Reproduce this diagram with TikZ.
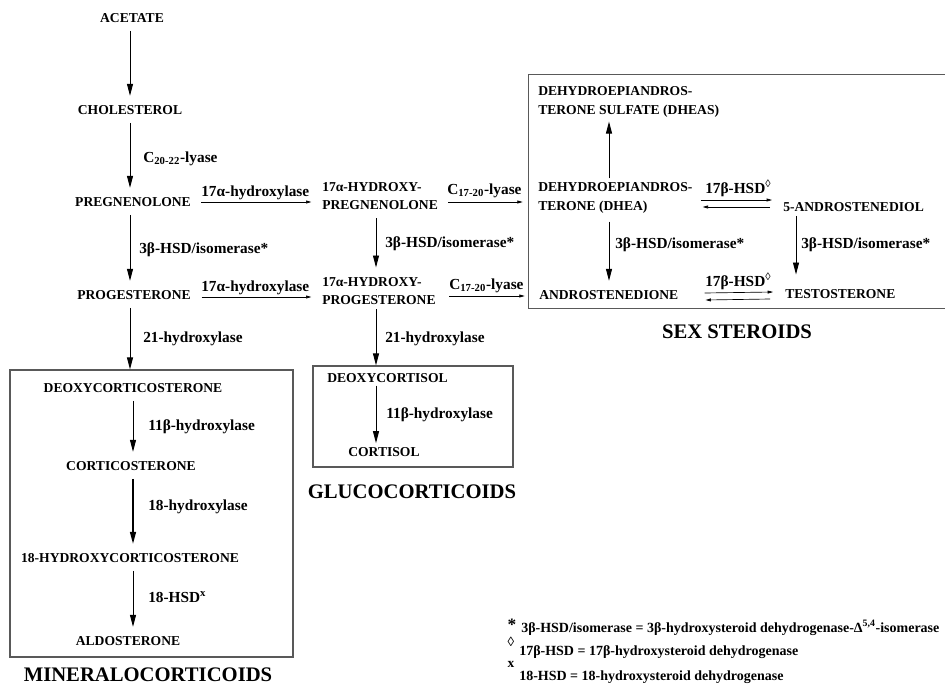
\documentclass[tikz,border=0pt]{standalone}
\usepackage{fontspec}
\setmainfont{Liberation Serif}
\usetikzlibrary{arrows.meta,calc,fit}
\begin{document}
\begin{tikzpicture}[x=0.75pt,y=-0.75pt,
 cpd/.style={font=\fontsize{10.2}{14}\selectfont\bfseries, inner sep=0pt, align=left},
 enz/.style={font=\fontsize{11.5}{13}\selectfont\bfseries, inner sep=0pt, anchor=base west},
 ttl/.style={font=\fontsize{15.5}{18}\selectfont\bfseries, inner sep=0pt},
 leg/.style={font=\fontsize{10.5}{12}\selectfont\bfseries, inner sep=0pt, anchor=base west},
 sym/.style={inner sep=0pt, anchor=center},
 va/.style={draw, line width=0.7pt, -{Triangle[length=9pt,width=4.5pt]}, shorten <=6pt, shorten >=7pt},
 ha/.style={draw, line width=0.5pt, -{Triangle[length=4pt,width=2.2pt]}},
 grp/.style={draw=black!65, line width=0.9pt},
]
\useasboundingbox (0,0) rectangle (945,685);

% column coordinates
\coordinate (c2) at (376,0);
\coordinate (c4) at (609,0);
\coordinate (c5) at (796,0);

% group frames
\node[grp, fit={(10,370) (293,657)}, inner sep=0pt] (minbox) {};
\node[grp, fit={(313,366) (513,467)}, inner sep=0pt] (glubox) {};
\node[fit={(529,75) (946,308)}, inner sep=0pt] (sexbox) {};
\draw[grp] (sexbox.north east) -- (sexbox.north west) -- (sexbox.south west) -- (sexbox.south east);

% compounds
\node[cpd] (acetate) at (132,18) {ACETATE};
\node[cpd] (chol) at (130,110) {CHOLESTEROL};
\node[cpd] (preg) at (133,202) {PREGNENOLONE};
\node[cpd] (prog) at (134,295) {PROGESTERONE};
\node[cpd, anchor=west] (ohpreg) at (322,196) {17α-HYDROXY-\\PREGNENOLONE};
\node[cpd, anchor=west] (ohprog) at (322,291) {17α-HYDROXY-\\PROGESTERONE};
\node[cpd, anchor=west] (dheas) at (538,102) {DEHYDROEPIANDROS-\\TERONE SULFATE (DHEAS)};
\node[cpd, anchor=west] (dhea) at (538,198) {DEHYDROEPIANDROS-\\TERONE (DHEA)};
\node[cpd, anchor=west] (adiol) at (783,207) {5-ANDROSTENEDIOL};
\node[cpd, anchor=west] (andro) at (539,295) {ANDROSTENEDIONE};
\node[cpd, anchor=west] (testo) at (785,294) {TESTOSTERONE};
\node[cpd] (doc) at (133,388) {DEOXYCORTICOSTERONE};
\node[cpd] (cort) at (131,466) {CORTICOSTERONE};
\node[cpd] (ohcort) at (130,558) {18-HYDROXYCORTICOSTERONE};
\node[cpd] (aldo) at (128,641) {ALDOSTERONE};
\node[cpd, anchor=west] (dcortisol) at (327,378) {DEOXYCORTISOL};
\node[cpd, anchor=west] (cortisol) at (348,452) {CORTISOL};

% titles
\node[ttl] (mintitle) at (148,675) {MINERALOCORTICOIDS};
\node[ttl] (glutitle) at (412,492) {GLUCOCORTICOIDS};
\node[ttl] (sextitle) at (737,332) {SEX STEROIDS};

% vertical arrows, main column
\draw[va] (acetate.south -| chol) -- (chol.north);
\draw[va] (chol.south) -- (chol.south |- preg.north);
\draw[va] (preg.south -| chol) -- (prog.north -| chol);
\draw[va, shorten >=0pt] (prog.south -| chol) -- (chol |- minbox.north);
% mineralocorticoids
\draw[va] (doc.south) -- (doc.south |- cort.north);
\draw[va, line width=1.1pt] (doc |- cort.south) -- (doc |- ohcort.north);
\draw[va] (doc |- ohcort.south) -- (doc |- aldo.north);
% second column
\draw[va] (c2 |- ohpreg.south) -- (c2 |- ohprog.north);
\draw[va, shorten <=3pt, shorten >=0pt] (c2 |- ohprog.south) -- (c2 |- glubox.north);
\draw[va, shorten <=2pt, shorten >=3pt] (c2 |- dcortisol.south) -- (c2 |- cortisol.north);
% sex steroids
\draw[va, shorten <=3pt, shorten >=3pt] (c4 |- dhea.north) -- (c4 |- dheas.south);
\draw[va] (c4 |- dhea.south) -- (c4 |- andro.north);
\draw[va, shorten <=3pt, shorten >=11pt] (c5 |- adiol.south) -- (c5 |- testo.north);

% horizontal arrows
\draw[ha, shorten <=7.5pt, shorten >=8pt] (preg.east) -- (preg.east -| ohpreg.west);
\draw[ha, shorten <=8pt, shorten >=8pt] ($(prog.east)+(0,2)$) -- ($(prog.east -| ohprog.west)+(0,2)$);
\draw[ha, shorten <=7.5pt, shorten >=4.5pt] (preg -| ohpreg.east) -- (preg -| sexbox.west);
\draw[ha, shorten <=10pt, shorten >=3pt] ($(prog -| ohprog.east)+(0,1)$) -- ($(prog -| sexbox.west)+(0,1)$);
% reversible 17beta-HSD
\draw[ha] ($(dhea.east |- adiol)+(8,-7)$) -- ($(adiol.west)+(-11,-7)$);
\draw[ha] ($(adiol.west)+(-13,0)$) -- ($(dhea.east |- adiol)+(10,0)$);
\draw[ha] ($(andro.east)+(26,-2)$) -- ($(testo.west)+(-12,-2)$);
\draw[ha] ($(testo.west)+(-15,5)$) -- ($(andro.east)+(27,5)$);

% enzyme labels
\node[enz] (l1) at (143,162) {C\textsubscript{20-22}-lyase};
\node[enz] (l2) at (139,253) {3β-HSD/isomerase*};
\node[enz] (l3) at (143,342) {21-hydroxylase};
\node[enz] (l4) at (201,196) {17α-hydroxylase};
\node[enz] (l5) at (201,291) {17α-hydroxylase};
\node[enz] (l6) at (447,194) {C\textsubscript{17-20}-lyase};
\node[enz] (l7) at (449,289) {C\textsubscript{17-20}-lyase};
\node[enz] (l8) at (385,247) {3β-HSD/isomerase*};
\node[enz] (l9) at (385,342) {21-hydroxylase};
\node[enz] (l10) at (386,418) {11β-hydroxylase};
\node[enz] (l11) at (148,430) {11β-hydroxylase};
\node[enz] (l12) at (148,510) {18-hydroxylase};
\node[enz] (l13) at (148,602) {18-HSD\textsuperscript{x}};
\node[enz] (l14) at (705,193) {17β-HSD\textsuperscript{◊}};
\node[enz] (l15) at (705,286) {17β-HSD\textsuperscript{◊}};
\node[enz] (l16) at (615,248) {3β-HSD/isomerase*};
\node[enz] (l17) at (801,248) {3β-HSD/isomerase*};

% legend
\node[sym, font=\fontsize{13}{13}\selectfont\bfseries] (s1) at (512,625) {*};
\node[leg] (g1) at (521,632) {3β-HSD/isomerase = 3β-hydroxysteroid dehydrogenase-Δ\textsuperscript{5,4}-isomerase};
\node[sym, font=\fontsize{10}{10}\selectfont\bfseries] (s2) at (511,642) {◊};
\node[leg] (g2) at (519,655) {17β-HSD = 17β-hydroxysteroid dehydrogenase};
\node[sym, font=\fontsize{10}{10}\selectfont\bfseries] (s3) at (511,664) {x};
\node[leg] (g3) at (519,680) {18-HSD = 18-hydroxysteroid dehydrogenase};
\end{tikzpicture}
\end{document}
